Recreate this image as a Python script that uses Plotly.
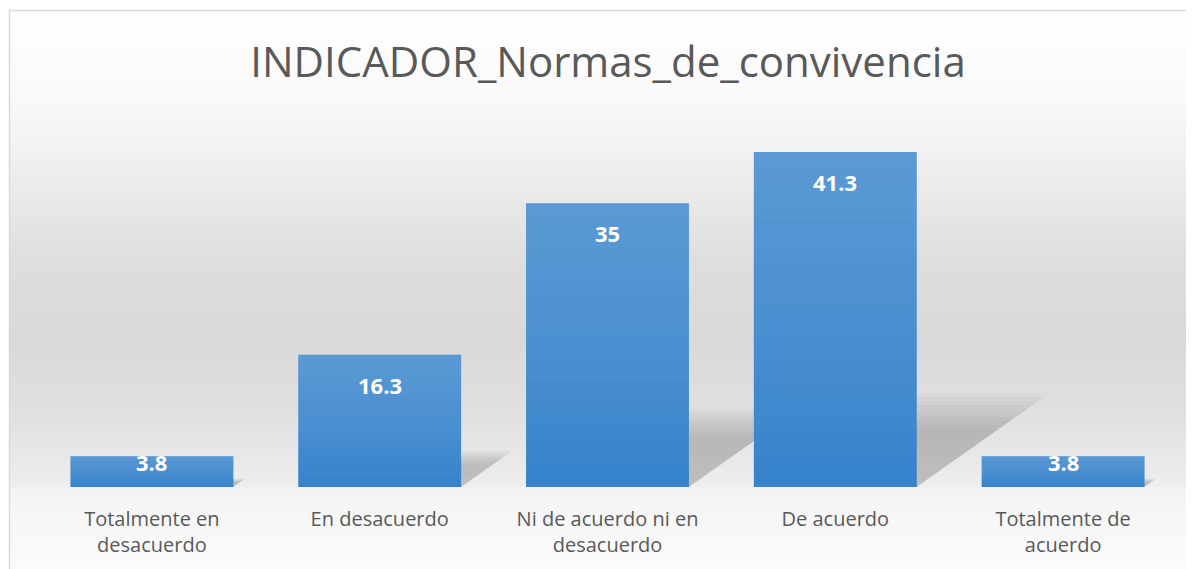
import plotly.graph_objects as go

categories = ["Totalmente en desacuerdo", "En desacuerdo", "Ni de acuerdo ni en desacuerdo",
              "De acuerdo", "Totalmente de acuerdo"]
tick_labels = ["Totalmente en<br>desacuerdo", "En desacuerdo", "Ni de acuerdo ni en<br>desacuerdo",
               "De acuerdo", "Totalmente de<br>acuerdo"]
values = [3.8, 16.3, 35, 41.3, 3.8]
title_text = "INDICADOR_Normas_de_convivencia"

OFF = 8  # page body margin
W, H = 1194 - OFF, 569 - OFF
L, R, T, B = 38 - OFF, 17, 130 - OFF, 82
pw, ph = W - L - R, H - T - B
BARGAP = 0.285
PX_PER_UNIT = 8.11


def px_x(px):
    return (px - OFF - L) / pw


def px_y(py):
    return (H - B - (py - OFF)) / ph


# background gradient stops (reference pixel y, gray level)
stops = [(10, 255), (100, 249), (170, 238), (260, 222), (340, 217), (420, 225), (487, 238),
         (489, 244), (569, 251)]


def gray_at(py):
    for (y0, g0), (y1, g1) in zip(stops, stops[1:]):
        if y0 <= py <= y1:
            return g0 + (g1 - g0) * (py - y0) / (y1 - y0)
    return stops[-1][1]


shapes = []
step = 3
py = 10
while py < 575:
    g = int(round(gray_at(py + step / 2)))
    shapes.append(dict(type="rect", xref="paper", yref="paper",
                       x0=px_x(9), x1=px_x(1200), y0=px_y(py + step), y1=px_y(py),
                       fillcolor=f"rgb({g},{g},{g})", line=dict(width=0), layer="below"))
    py += step
# chart border
shapes.append(dict(type="rect", xref="paper", yref="paper",
                   x0=px_x(9.5), x1=px_x(1205), y0=px_y(580), y1=px_y(10.5),
                   fillcolor="rgba(0,0,0,0)", line=dict(color="#d9d9d9", width=1.5), layer="below"))

# perspective shadows behind bars (skewed to the upper right, blurred by layering)
half = (1 - BARGAP) / 2
cat_px = pw / len(categories)
n_blur = 10
for i, v in enumerate(values):
    right = i + half
    left = i - half
    for k in range(n_blur):
        sc = 0.72 + 0.45 * k / (n_blur - 1)
        h = 0.24 * v * sc
        skew = 0.34 * v * PX_PER_UNIT * sc / cat_px
        path = f"M {left},0 L {right},0 L {right + skew},{h} L {left + skew},{h} Z"
        shapes.append(dict(type="path", xref="x", yref="y", path=path,
                           fillcolor="rgba(0,0,0,0.019)", line=dict(width=0), layer="below"))

# vertical gradient on bars: white veil, strongest at the top of each bar
n_grad = 24
for i, v in enumerate(values):
    for j in range(n_grad):
        t = (j + 0.5) / n_grad
        a = 0.19 * t ** 0.8
        shapes.append(dict(type="rect", xref="x", yref="y",
                           x0=i - half, x1=i + half, y0=v * j / n_grad, y1=v * (j + 1) / n_grad,
                           fillcolor=f"rgba(255,255,255,{a:.3f})", line=dict(width=0),
                           layer="above"))

fig = go.Figure()
fig.add_trace(go.Bar(
    x=categories, y=values,
    marker=dict(color="#3582cb", line=dict(width=0)),
    hoverinfo="skip",
))

for c, v in zip(categories, values):
    fig.add_annotation(x=c, y=v, text=f"{v:g}", showarrow=False,
                       yanchor="middle", yshift=-30 if v > 10 else -6,
                       font=dict(family="Open Sans", size=22, color="white", weight="bold"))

fig.update_layout(
    width=W, height=H,
    margin=dict(l=L, r=R, t=T, b=B),
    paper_bgcolor="white", plot_bgcolor="rgba(0,0,0,0)",
    bargap=BARGAP,
    showlegend=False,
    shapes=shapes,
    title=dict(text=title_text, x=(608 - OFF) / W, xanchor="center", y=1 - (62 - OFF) / H,
               yanchor="middle",
               font=dict(family="Open Sans", size=42, color="#595959")),
    xaxis=dict(tickmode="array", tickvals=categories, ticktext=tick_labels,
               showgrid=False, showline=False, zeroline=False,
               ticks="outside", ticklen=14, tickcolor="rgba(0,0,0,0)",
               tickfont=dict(family="Open Sans", size=20, color="#595959")),
    yaxis=dict(range=[0, ph / PX_PER_UNIT], visible=False, showgrid=False, zeroline=False),
)

fig.write_html("out.html")
